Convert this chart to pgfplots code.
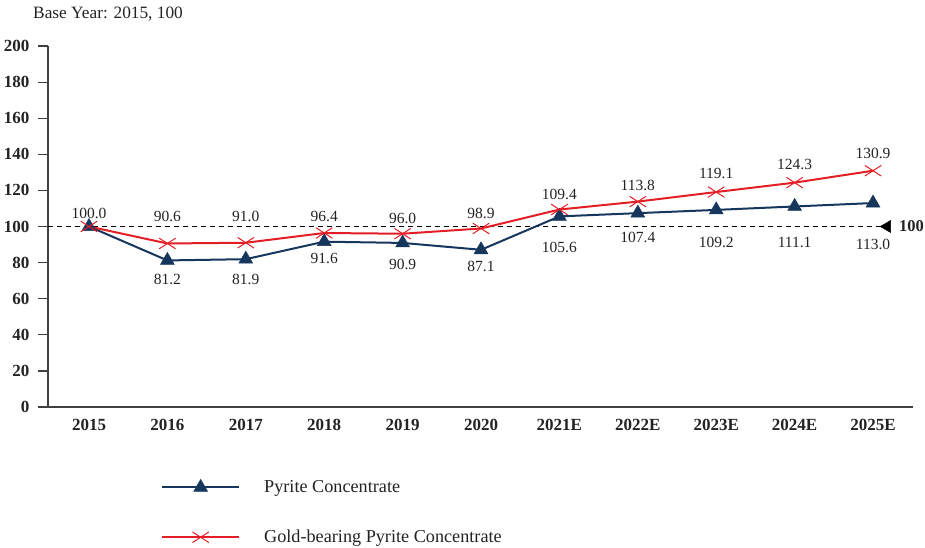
\documentclass[border=0pt]{standalone}
\usepackage{pgfplots}
\pgfplotsset{compat=1.18}
\usepackage{fontspec}
\setmainfont{Liberation Serif}
\definecolor{navy}{RGB}{23,54,93}
\definecolor{cred}{RGB}{228,30,38}
\definecolor{axgray}{RGB}{64,64,64}
\definecolor{txt}{RGB}{35,35,35}
\newcommand{\lbl}{\fontsize{15.5}{18}\selectfont}
\begin{document}
\begin{tikzpicture}
\begin{axis}[
  at={(0,0)}, anchor=south west,
  scale only axis, width=865pt, height=361pt,
  xmin=-0.523, xmax=10.51, ymin=0, ymax=200,
  axis x line*=bottom, axis y line*=left,
  axis line style={axgray, line width=1.4pt},
  xtick={0,...,10},
  xticklabels={2015,2016,2017,2018,2019,2020,2021E,2022E,2023E,2024E,2025E},
  ytick={0,20,...,200},
  major x tick style={draw=none},
  major y tick style={axgray, line width=1.2pt},
  tick align=outside, major tick length=10pt,
  tick label style={font=\fontsize{17}{20}\selectfont\bfseries, text=txt},
  yticklabel style={xshift=-5pt},
  xticklabel style={yshift=1.5pt},
  /pgf/number format/assume math mode=true,
  clip=false,
  legend cell align=left,
  legend style={at={(axis description cs:0.1306,-0.20)}, anchor=north west,
    draw=none, fill=none, inner sep=0pt, row sep=36pt, column sep=24pt,
    font=\fontsize{18.2}{21}\selectfont, text=txt,
    nodes={inner sep=0pt}},
  legend image code/.code={\draw[mark repeat=2,mark phase=2,#1] plot coordinates {(0pt,0pt) (38.5pt,0pt) (77pt,0pt)};},
]
\addplot[black, dashed, dash pattern=on 5pt off 4pt, line width=1pt, forget plot] coordinates {(-0.523,100) (10.09,100)};
\addplot[forget plot, only marks, mark=triangle*, mark size=7pt, mark options={rotate=90, fill=black, draw=black}] coordinates {(10.18,100)};

\addplot[navy, line width=2pt, mark=triangle*, mark size=8pt, mark options={fill=navy, draw=navy, line width=0.5pt}] coordinates {
(0,100.0) (1,81.2) (2,81.9) (3,91.6) (4,90.9) (5,87.1) (6,105.6) (7,107.4) (8,109.2) (9,111.1) (10,113.0)};
\addlegendentry{Pyrite Concentrate}
\addplot[cred, line width=2pt, mark=x, mark size=7.5pt, mark options={xscale=1.55, line width=1pt}] coordinates {
(0,100.0) (1,90.6) (2,91.0) (3,96.4) (4,96.0) (5,98.9) (6,109.4) (7,113.8) (8,119.1) (9,124.3) (10,130.9)};
\addlegendentry{Gold-bearing Pyrite Concentrate}

\node[font=\lbl, text=txt] at (axis cs:0,107.0) {100.0};
\node[font=\lbl, text=txt] at (axis cs:1,105.3) {90.6};
\node[font=\lbl, text=txt] at (axis cs:2,105.3) {91.0};
\node[font=\lbl, text=txt] at (axis cs:3,105.3) {96.4};
\node[font=\lbl, text=txt] at (axis cs:4,104.2) {96.0};
\node[font=\lbl, text=txt] at (axis cs:5,107.5) {98.9};
\node[font=\lbl, text=txt] at (axis cs:6,118.0) {109.4};
\node[font=\lbl, text=txt] at (axis cs:7,123.0) {113.8};
\node[font=\lbl, text=txt] at (axis cs:8,129.6) {119.1};
\node[font=\lbl, text=txt] at (axis cs:9,134.1) {124.3};
\node[font=\lbl, text=txt] at (axis cs:10,140.2) {130.9};

\node[font=\lbl, text=txt] at (axis cs:1,70.9) {81.2};
\node[font=\lbl, text=txt] at (axis cs:2,70.9) {81.9};
\node[font=\lbl, text=txt] at (axis cs:3,82.5) {91.6};
\node[font=\lbl, text=txt] at (axis cs:4,79.2) {90.9};
\node[font=\lbl, text=txt] at (axis cs:5,77.6) {87.1};
\node[font=\lbl, text=txt] at (axis cs:6,88.6) {105.6};
\node[font=\lbl, text=txt] at (axis cs:7,94.2) {107.4};
\node[font=\lbl, text=txt] at (axis cs:8,91.4) {109.2};
\node[font=\lbl, text=txt] at (axis cs:9,91.4) {111.1};
\node[font=\lbl, text=txt] at (axis cs:10,90.3) {113.0};

\node[anchor=west, inner sep=0pt, font=\fontsize{16.5}{19}\selectfont\bfseries, text=txt] at (axis cs:10.33,100) {100};
\node[anchor=west, inner sep=0pt, font=\fontsize{17.3}{20}\selectfont, text=txt] at (axis description cs:-0.0173,1.0886) {Base Year: 2015, 100};
\end{axis}
\pgfresetboundingbox
\useasboundingbox (-48pt,-140pt) rectangle (877pt,407pt);
\end{tikzpicture}
\end{document}
